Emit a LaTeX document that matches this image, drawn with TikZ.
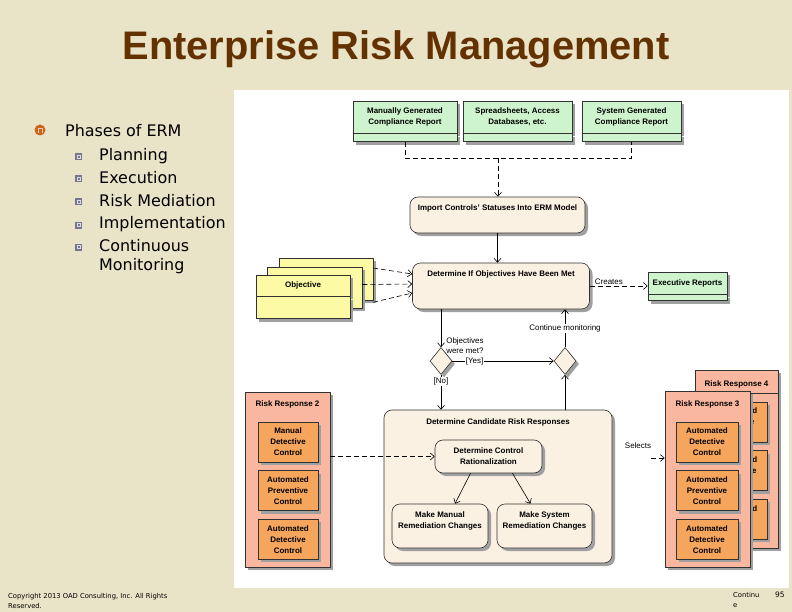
\documentclass[tikz,border=0pt]{standalone}
\usepackage{fontspec}
\setmainfont{Liberation Sans}
\newfontfamily\slidefont{DejaVu Sans}
\usetikzlibrary{positioning, shapes.geometric, shadows, arrows.meta}
\definecolor{slidebg}{RGB}{233,227,200}
\definecolor{titlebrown}{RGB}{100,50,0}
\definecolor{umlgreen}{RGB}{206,244,206}
\definecolor{umlpeach}{RGB}{251,241,227}
\definecolor{umlyellow}{RGB}{252,250,165}
\definecolor{umlsalmon}{RGB}{250,183,160}
\definecolor{umlorange}{RGB}{246,166,92}
\definecolor{umlline}{RGB}{50,50,50}
\definecolor{umlshadow}{RGB}{160,160,160}
\definecolor{bulletorange}{RGB}{204,102,26}
\definecolor{bulletgray}{RGB}{118,118,146}
\tikzset{
>={Straight Barb[length=4bp,width=7bp]}, % open arrow heads as in the UML tool
boxshadow/.style={drop shadow={shadow xshift=3bp, shadow yshift=-3bp, fill=umlshadow, opacity=1}}, % grey offset shadow
umlbox/.style={draw=umlline, line width=0.6bp, boxshadow, inner sep=2bp, font=\fontsize{8}{11}\selectfont\bfseries}, % every box of the diagram
classbox/.style={umlbox, fill=umlgreen, align=center}, % reports and sources
objbox/.style={umlbox, fill=umlyellow}, % objectives
activity/.style={umlbox, fill=umlpeach, rounded corners=8bp}, % actions
decision/.style={umlbox, fill=umlpeach, diamond, minimum width=22bp, minimum height=27bp, inner sep=0pt}, % merge / decision
riskbox/.style={umlbox, fill=umlsalmon}, % risk responses
ctrlbox/.style={umlbox, fill=umlorange, align=center, minimum width=60bp, minimum height=40bp}, % controls
flow/.style={->, line width=0.6bp}, % control flow
dep/.style={->, line width=0.6bp, dash pattern=on 5bp off 3bp}, % dependency
guard/.style={font=\fontsize{8}{10}\selectfont, inner sep=1bp}, % edge labels
phase/.style={anchor=west, inner sep=2bp, font=\slidefont\fontsize{16}{19}\selectfont}, % bullet text
}
\begin{document}
\begin{tikzpicture}[x=1bp, y=-1bp]
\useasboundingbox (0,0) rectangle (792,612);
\fill[slidebg] (0,0) rectangle (792,612);
\fill[white] (234,90) rectangle (789,588);

% slide title and bullets
\node[font=\fontsize{40}{44}\selectfont\bfseries, text=titlebrown, anchor=base] (title) at (396,60) {Enterprise Risk Management};
\fill[bulletorange] (40,130) circle (5.5);
\draw[white!65!bulletorange, line width=0.8bp] (38,133) -- (38,128.5) -- (42,128.5) -- (42,133);
\node[phase] (phases) at (63,131) {Phases of ERM};
\foreach \y in {157,179,202,225,247} {
  \fill[bulletgray] (75,\y-3.5) rectangle (82,\y+3.5);
  \draw[white!75!bulletgray, line width=0.6bp] (77,\y-1.5) rectangle (80,\y+1.5);
}
\foreach \y/\txt [count=\i] in {156/Planning, 178/Execution, 201/Risk Mediation, 224/Implementation}
  \node[phase] (ph\i) at (97,\y) {\txt};
\node[phase, align=left] (ph5) at (97,256.5) {Continuous\\Monitoring};

% sources
\node[classbox, minimum width=104bp, minimum height=32bp] (ga) at (405,117) {Manually Generated\\Compliance Report};
\node[classbox, minimum width=104bp, minimum height=8bp, below=0pt of ga] (gal) {};
\node[classbox, minimum width=109bp, minimum height=32bp] (gb) at (517.5,117) {Spreadsheets, Access\\Databases, etc.};
\node[classbox, minimum width=109bp, minimum height=8bp, below=0pt of gb] (gbl) {};
\node[classbox, minimum width=99bp, minimum height=32bp] (gc) at (631.5,117) {System Generated\\Compliance Report};
\node[classbox, minimum width=99bp, minimum height=8bp, below=0pt of gc] (gcl) {};

\node[activity, minimum width=175bp, text height=14bp, text depth=22bp, inner ysep=0pt] (imp) at (497.5,215) {Import Controls' Statuses Into ERM Model};
\coordinate (jn) at (498,158);
\draw[line width=0.6bp, dash pattern=on 5bp off 3bp] (gal.south) |- (jn) -| (gcl.south);
\draw[dep] (jn) -- (jn |- imp.north);

% objectives
\node[activity, minimum width=177bp, text height=13bp, text depth=33bp, inner ysep=0pt] (det) at (501,286) {Determine If Objectives Have Been Met};
\draw[flow] (imp.south) -- (imp.south |- det.north);
\node[objbox, minimum width=94bp, minimum height=42bp] (ob3) at (326,279) {};
\node[objbox, minimum width=95bp, minimum height=41bp] (ob2) at (314.5,287.5) {};
\node[objbox, minimum width=94bp, minimum height=21bp] (ob1) at (303,285.5) {Objective};
\node[objbox, minimum width=94bp, minimum height=22bp, below=0pt of ob1] (ob1l) {};
\draw[dep] ([yshift=11bp]ob3.east) -- ([yshift=12bp]det.west);
\draw[dep] ([yshift=3bp]ob2.east) -- ([yshift=2bp]det.west);
\draw[dep] ([yshift=-2bp]ob3.south east) -- ([yshift=-7bp]det.west);

\node[classbox, minimum width=79bp, minimum height=22bp] (exr) at (687.5,283) {Executive Reports};
\node[classbox, minimum width=79bp, minimum height=6bp, below=0pt of exr] (exrl) {};
\draw[dep] (det.east) -- node[guard, above, pos=0.33] (crt) {Creates} (det.east -| exr.west);

% decisions
\node[decision] (d1) at (441,361) {};
\node[decision] (d2) at (565,361) {};
\node[activity, minimum width=228bp, text height=14bp, text depth=139bp, inner ysep=0pt] (cand) at (498,486.5) {Determine Candidate Risk Responses};
\draw[flow] (d1.north |- det.south) -- node[guard, anchor=west, align=left, pos=0.97, xshift=4bp] (omt) {Objectives\\were met?} (d1.north);
\draw[flow] (d1.east) -- node[guard, fill=white, pos=0.22] (yes) {[Yes]} (d2.west);
\draw[flow] (d2.north) -- node[guard, fill=white] (cmon) {Continue monitoring} (d2.north |- det.south);
\draw[flow] (d1.south) -- node[guard, fill=white, pos=0.2] (no) {[No]} (d1.south |- cand.north);
\draw[flow] (d2.south |- cand.north) -- (d2.south);

% candidate responses
\node[activity, align=center, minimum width=107bp, minimum height=33bp] (rat) at (488.5,456.5) {Determine Control\\Rationalization};
\node[activity, align=center, minimum width=96bp, minimum height=44bp] (mman) at (440,526) {Make Manual\\Remediation Changes\\\mbox{}};
\node[activity, align=center, minimum width=95bp, minimum height=44bp] (msys) at (544.5,526) {Make System\\Remediation Changes\\\mbox{}};
\draw[flow] ([xshift=-18bp]rat.south) -- ([xshift=15bp]mman.north);
\draw[flow] ([xshift=24bp]rat.south) -- ([xshift=-14bp]msys.north);

% risk responses
\node[riskbox, minimum width=85bp, text height=14bp, text depth=161bp, inner ysep=0pt] (rr2) at (287.5,479.5) {Risk Response 2};
\node[ctrlbox] (rr2a) at (288,442) {Manual\\Detective\\Control};
\node[ctrlbox, below=8bp of rr2a] (rr2b) {Automated\\Preventive\\Control};
\node[ctrlbox, below=8bp of rr2b] (rr2c) {Automated\\Detective\\Control};
\draw[dep] (rr2.east |- rat.west) -- (rat.west);

\node[riskbox, minimum width=83bp, text height=16bp, text depth=162bp, inner ysep=0pt] (rr4) at (736.5,459) {Risk Response 4};
\draw[line width=0.6bp, umlline] (rr4.west |- 0,393) -- (rr4.east |- 0,393);
\node[ctrlbox, minimum width=61bp] (rr4a) at (736.5,422) {Automated\\Detective\\Control};
\node[ctrlbox, minimum width=61bp, below=8bp of rr4a] (rr4b) {Automated\\Preventive\\Control};
\node[ctrlbox, minimum width=61bp, below=8bp of rr4b] (rr4c) {Automated\\Process\\Control};

\node[riskbox, minimum width=85bp, text height=15bp, text depth=161bp, inner ysep=0pt] (rr3) at (707.5,479) {Risk Response 3};
\node[ctrlbox, minimum width=62bp] (rr3a) at (707,442) {Automated\\Detective\\Control};
\node[ctrlbox, minimum width=62bp, below=8bp of rr3a] (rr3b) {Automated\\Preventive\\Control};
\node[ctrlbox, minimum width=62bp, below=8bp of rr3b] (rr3c) {Automated\\Detective\\Control};

\coordinate (sel) at (651,458);
\draw[dep] (sel) -- (sel -| rr3.west);
\node[guard] (selt) at (638,446) {Selects};

% footer
\node[anchor=north west, align=left, inner sep=0pt, font=\slidefont\fontsize{6.8}{10}\selectfont] (copy) at (8,593) {Copyright 2013 OAD Consulting, Inc. All Rights\\Reserved.};
\node[anchor=north west, align=left, inner sep=0pt, font=\slidefont\fontsize{6.8}{10}\selectfont] (cont) at (733,592) {Continu\\e};
\node[anchor=north west, inner sep=0pt, font=\slidefont\fontsize{7.5}{10}\selectfont] (pg) at (775,592) {95};
\end{tikzpicture}
\end{document}
